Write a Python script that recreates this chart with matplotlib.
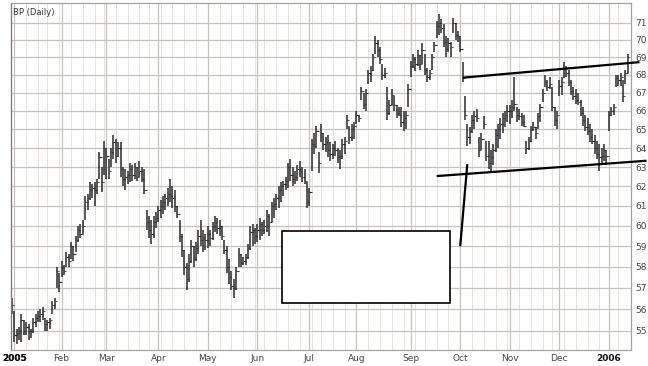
import matplotlib
matplotlib.use("Agg")
import matplotlib.pyplot as plt
import matplotlib.patches as patches
import numpy as np
import pandas as pd

# daily bars: (high, low, close)
dec_2004 = [(56.5, 55.8, 56.2)]
jan_2005 = [(55.9, 54.5, 54.8), (55.1, 54.4, 54.9), (55.2, 54.6, 55.0), (55.8, 54.5, 55.5), (55.5, 54.8, 55.0),
            (55.4, 54.8, 55.2), (55.3, 54.6, 55.0), (55.1, 54.7, 55.0), (55.6, 54.9, 55.4), (55.8, 55.2, 55.6),
            (55.9, 55.4, 55.7), (56.0, 55.4, 55.8), (56.1, 55.5, 55.9), (55.6, 55.0, 55.3), (55.5, 55.0, 55.4),
            (55.6, 55.1, 55.5), (56.4, 55.8, 56.2), (56.5, 56.0, 56.4), (58.0, 57.0, 57.8), (57.7, 56.8, 57.3)]
feb_2005 = [(58.3, 57.5, 58.0), (58.1, 57.6, 57.8), (58.7, 58.0, 58.5), (58.6, 58.0, 58.3), (59.2, 58.4, 59.0),
            (59.0, 58.3, 58.6), (59.5, 58.7, 59.3), (60.0, 59.2, 59.8), (60.1, 59.4, 59.6), (60.3, 59.6, 60.0),
            (61.5, 60.3, 61.2), (61.6, 60.8, 61.4), (62.2, 61.3, 61.8), (62.1, 61.4, 61.9), (62.2, 61.0, 61.8),
            (62.4, 61.6, 62.2), (63.8, 62.4, 63.5), (63.0, 61.7, 62.2), (64.4, 62.6, 64.0)]
mar_2005 = [(64.0, 62.4, 63.6), (63.4, 62.4, 62.8), (64.0, 63.0, 63.8), (64.7, 63.4, 64.3), (64.5, 63.2, 63.6),
            (64.3, 63.5, 64.0), (64.3, 62.5, 62.9), (63.0, 62.0, 62.4), (62.9, 61.8, 62.5), (62.8, 62.1, 62.6),
            (63.2, 62.2, 62.9), (63.1, 62.3, 62.6), (63.2, 62.4, 63.0), (63.0, 62.3, 62.5), (63.3, 62.5, 62.8),
            (63.0, 62.2, 62.4), (62.9, 61.6, 61.8), (60.8, 59.8, 60.2), (60.5, 59.4, 59.8), (60.3, 59.1, 59.6),
            (60.5, 59.4, 60.2), (60.7, 59.9, 60.4)]
apr_2005 = [(61.0, 60.2, 60.8), (61.3, 60.4, 61.0), (61.5, 60.6, 61.2), (61.6, 60.8, 61.4), (61.9, 61.0, 61.6),
            (62.4, 61.2, 61.5), (62.0, 60.9, 61.4), (61.8, 60.7, 61.0), (61.0, 60.4, 60.6), (60.3, 59.2, 59.5),
            (59.6, 58.5, 58.8), (58.8, 57.6, 58.0), (58.2, 56.9, 57.4), (58.6, 57.3, 58.3), (59.3, 58.2, 59.0),
            (59.0, 58.0, 58.4), (59.2, 58.3, 58.9), (59.8, 58.6, 59.5), (60.3, 59.0, 59.3), (59.8, 58.7, 59.4),
            (59.6, 58.8, 59.3)]
may_2005 = [(60.0, 58.9, 59.6), (59.8, 59.0, 59.4), (60.2, 59.3, 60.0), (60.5, 59.7, 60.2), (60.4, 59.6, 59.9),
            (60.3, 59.5, 60.0), (60.0, 59.3, 59.5), (59.3, 58.6, 58.8), (59.0, 57.7, 58.0), (58.4, 57.2, 57.5),
            (57.8, 56.9, 57.1), (57.4, 56.5, 57.0), (58.0, 56.9, 57.8), (58.9, 58.0, 58.6), (58.6, 58.0, 58.2),
            (58.5, 58.1, 58.3), (58.6, 58.1, 58.5), (59.1, 58.4, 58.9), (60.0, 58.8, 59.7), (60.1, 59.0, 59.8),
            (59.9, 59.1, 59.5)]
jun_2005 = [(60.1, 59.2, 59.8), (60.4, 59.3, 60.1), (60.2, 59.5, 59.8), (60.3, 59.6, 60.0), (60.8, 59.7, 60.5),
            (60.6, 59.5, 60.2), (61.2, 60.2, 61.0), (61.4, 60.4, 61.1), (61.6, 60.8, 61.4), (62.0, 60.9, 61.8),
            (62.2, 61.2, 62.0), (62.3, 61.5, 62.1), (62.5, 61.8, 62.3), (63.2, 61.9, 63.0), (63.4, 62.3, 62.6),
            (63.0, 62.0, 62.4), (62.8, 62.1, 62.5), (63.1, 62.3, 62.9), (63.3, 62.5, 62.8), (63.0, 62.2, 62.5),
            (62.9, 62.1, 62.3), (62.2, 60.9, 61.2)]
jul_2005 = [(61.9, 61.0, 61.7), (64.5, 62.8, 64.2), (64.8, 63.7, 64.1), (65.2, 64.0, 64.9), (63.8, 62.7, 63.2),
            (65.3, 64.3, 64.8), (64.8, 63.9, 64.2), (64.6, 63.8, 64.3), (64.7, 63.5, 63.9), (64.3, 63.3, 63.7),
            (64.2, 63.4, 64.0), (64.4, 63.6, 63.9), (64.0, 63.2, 63.5), (63.9, 62.9, 63.6), (64.5, 63.4, 64.2),
            (64.6, 63.7, 64.4), (65.8, 65.0, 65.5), (65.2, 64.2, 64.6), (65.3, 64.4, 65.0), (65.4, 64.5, 65.2)]
aug_2005 = [(66.0, 65.3, 65.8), (65.8, 65.4, 65.6), (67.3, 66.6, 67.1), (67.0, 66.1, 66.4), (67.2, 66.0, 67.0),
            (68.3, 67.5, 68.1), (68.5, 67.6, 68.3), (69.2, 68.2, 69.0), (70.2, 69.2, 69.8), (70.0, 69.0, 69.4),
            (69.6, 68.6, 68.9), (68.6, 67.7, 68.0), (68.4, 67.8, 68.1), (67.3, 65.5, 65.9), (66.6, 65.8, 66.3),
            (67.2, 66.3, 66.9), (66.8, 66.0, 66.3), (66.3, 65.6, 65.9), (66.2, 65.7, 65.8), (66.2, 65.1, 65.4),
            (66.0, 64.9, 65.6), (66.0, 65.0, 65.8), (67.5, 66.2, 67.2)]
sep_2005 = [(68.8, 67.9, 68.5), (69.2, 68.4, 68.9), (69.0, 68.2, 68.6), (69.4, 68.5, 69.1), (69.1, 68.3, 68.6),
            (69.8, 68.6, 69.4), (69.2, 68.0, 68.3), (68.4, 67.6, 67.9), (68.3, 67.7, 68.1), (69.2, 68.3, 69.0),
            (69.9, 69.3, 69.7), (71.1, 70.1, 70.8), (71.5, 70.3, 71.0), (71.2, 70.4, 70.7), (70.9, 69.6, 69.9),
            (70.2, 69.0, 69.5), (70.1, 69.3, 69.8), (69.9, 69.0, 69.6), (71.3, 70.4, 71.0), (71.0, 70.0, 70.3),
            (70.5, 69.9, 70.2)]
oct_2005 = [(70.2, 69.3, 69.5), (68.7, 67.6, 67.8), (66.8, 65.5, 65.8), (65.3, 64.1, 64.6), (65.1, 64.2, 64.9),
            (65.8, 64.8, 65.5), (66.0, 65.0, 65.7), (66.1, 65.4, 65.6), (64.6, 63.5, 63.9), (64.8, 63.9, 64.5),
            (65.7, 65.0, 65.3), (64.4, 63.3, 63.6), (64.4, 62.9, 63.2), (63.9, 62.7, 63.5), (64.2, 63.1, 63.9),
            (65.0, 63.8, 64.7), (65.3, 64.0, 65.0), (65.6, 64.5, 65.3), (65.9, 64.8, 65.6), (66.0, 65.1, 65.8),
            (66.3, 65.4, 66.0)]
nov_2005 = [(66.3, 65.3, 66.0), (66.6, 65.6, 66.2), (67.9, 66.0, 66.4), (66.2, 65.4, 65.8), (66.1, 65.5, 65.7),
            (65.9, 65.2, 65.4), (65.8, 65.1, 65.2), (64.4, 63.7, 64.0), (64.6, 63.9, 64.4), (65.2, 64.3, 65.0),
            (65.4, 64.9, 65.1), (65.1, 64.5, 64.8), (65.9, 65.0, 65.7), (66.4, 65.4, 66.2), (67.2, 66.5, 67.0),
            (68.0, 67.3, 67.6), (67.7, 67.1, 67.3), (67.9, 67.2, 67.5), (67.3, 66.0, 66.2), (66.2, 65.2, 65.5),
            (66.0, 65.0, 65.8)]
dec_2005 = [(67.7, 66.8, 67.4), (67.9, 66.9, 67.6), (68.7, 67.8, 68.4), (68.5, 67.9, 68.1), (68.3, 67.4, 67.6),
            (67.7, 66.9, 67.1), (67.3, 66.6, 66.8), (67.2, 66.4, 66.6), (67.0, 66.3, 66.5), (66.6, 65.7, 65.9),
            (66.2, 65.2, 65.5), (65.8, 64.9, 65.1), (65.6, 64.7, 64.9), (65.3, 64.3, 64.6), (65.0, 64.2, 64.4),
            (64.7, 63.7, 64.0), (64.4, 63.4, 63.7), (64.2, 62.8, 63.5), (64.0, 63.2, 63.6), (64.2, 63.3, 63.9),
            (63.9, 63.1, 63.6)]
jan_2006 = [(66.0, 64.9, 65.8), (66.2, 65.7, 66.0), (66.4, 65.8, 66.2), (68.0, 67.3, 67.8), (68.0, 67.4, 67.7),
            (68.1, 67.4, 67.9), (67.7, 66.5, 66.8), (68.3, 67.5, 68.1), (69.2, 68.1, 69.0)]

holidays = ['2005-01-17', '2005-02-21', '2005-03-25', '2005-05-30', '2005-07-04',
            '2005-09-05', '2005-11-24', '2005-12-26', '2006-01-02']
price_ticks = list(range(55, 72))

# hand drawn trend lines: (trading day, price) end points
upper_line = [('2005-10-04', 67.84), ('2006-01-20', 68.72)]
lower_line = [('2005-09-19', 62.53), ('2006-01-25', 63.33)]
break_line = [('2005-10-03', 59.0), ('2005-10-06', 63.15)]

bars = (dec_2004 + jan_2005 + feb_2005 + mar_2005 + apr_2005 + may_2005 + jun_2005 + jul_2005 +
        aug_2005 + sep_2005 + oct_2005 + nov_2005 + dec_2005 + jan_2006)
df = pd.DataFrame(bars, columns=['high', 'low', 'close'])
dates = pd.bdate_range('2004-12-31', '2006-01-13', freq='C', holidays=holidays)
assert len(dates) == len(df)
df.index = dates
x = np.arange(len(df))
opens = df['close'].shift(1).bfill()

# extended day axis so lines can run past the last bar
ext_dates = pd.bdate_range('2004-12-31', '2006-02-28', freq='C', holidays=holidays)
def day_pos(d):
    return ext_dates.get_indexer([pd.Timestamp(d)], method='nearest')[0]

fig = plt.figure(figsize=(6.48, 3.66), dpi=100)
ax = fig.add_axes([11 / 648, 16 / 366, 620 / 648, 347 / 366])
ax.set_yscale('log')
ax.set_xlim(-0.45, 262.4)
ax.set_ylim(54.14, 72.17)

grid_major = '#c8c2bf'
grid_minor = '#e5e2e0'

month_pos, month_lab, week_pos = [], [], []
for i in range(1, len(dates)):
    if dates[i].month != dates[i - 1].month:
        month_pos.append(i)
        month_lab.append(str(dates[i].year) if dates[i].month == 1 else dates[i].strftime('%b'))
    elif dates[i].weekday() < dates[i - 1].weekday():
        week_pos.append(i)

for p in week_pos:
    ax.axvline(p, color=grid_minor, lw=0.7, zorder=0)
for p in month_pos:
    ax.axvline(p, color=grid_major, lw=0.9, zorder=0)
for p in price_ticks:
    ax.axhline(p, color=grid_major, lw=0.9, zorder=0)

# OHLC bars
bar_col = '#2a2a2a'
ax.vlines(x, df['low'], df['high'], color=bar_col, lw=1.1, zorder=2)
ax.hlines(df['close'], x, x + 0.55, color=bar_col, lw=0.8, zorder=2)
ax.hlines(opens, x - 0.55, x, color=bar_col, lw=0.8, zorder=2)

for line in (upper_line, lower_line, break_line):
    xs = [day_pos(d) for d, _ in line]
    ys = [v for _, v in line]
    ax.plot(xs, ys, color='black', lw=1.6, solid_capstyle='butt', clip_on=False, zorder=3)

# blank box
ax.add_patch(patches.Rectangle((0.437, 0.135), 0.271, 0.208, transform=ax.transAxes,
                               facecolor='white', edgecolor='black', lw=1.2, zorder=4))

ax.set_yticks(price_ticks)
ax.set_yticklabels([str(p) for p in price_ticks])
ax.yaxis.set_minor_locator(matplotlib.ticker.NullLocator())
ax.yaxis.tick_right()
ax.tick_params(axis='y', length=0, pad=3, labelsize=6.5, labelcolor='#444')

ax.set_xticks([1] + month_pos)
ax.set_xticklabels(['2005'] + month_lab)
ax.tick_params(axis='x', length=0, pad=3, labelsize=6.5, labelcolor='#444')
for t in ax.get_xticklabels():
    if t.get_text() in ('2005', '2006'):
        t.set_fontweight('bold')
        t.set_color('#111')

for s in ax.spines.values():
    s.set_color('#a8a29f')
    s.set_linewidth(0.9)
ax.spines['left'].set_color('#777')

ax.text(0.004, 0.985, 'BP (Daily)', transform=ax.transAxes, fontsize=6, color='#333',
        va='top', ha='left', zorder=5)

fig.savefig('out.png', dpi=100, facecolor='white')
